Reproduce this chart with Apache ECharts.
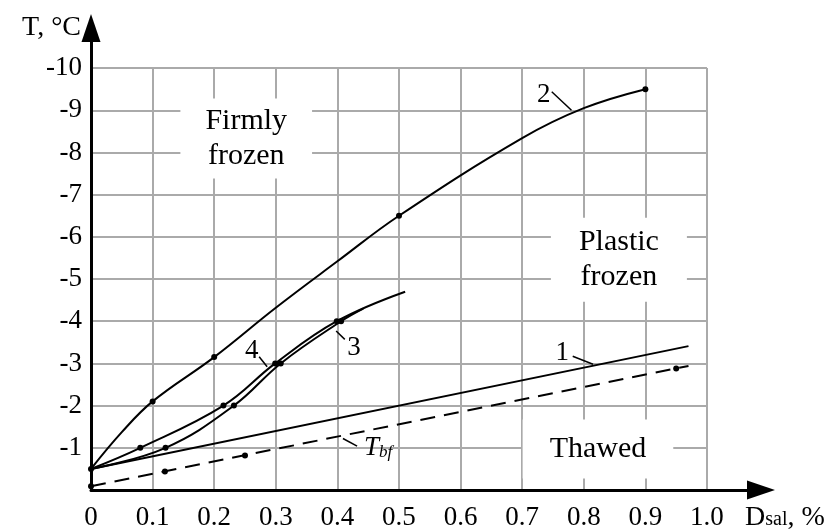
<!DOCTYPE html>
<html>
<head>
<meta charset="utf-8">
<script src="https://cdn.jsdelivr.net/npm/echarts@6/dist/echarts.min.js"></script>
<style>
  html, body { margin: 0; padding: 0; background: #fff; }
  #chart { width: 833px; height: 531px; }
</style>
</head>
<body>
<div id="chart"></div>
<script>
// Tick values: salinity D (%) and temperature T (°C)
const xTicks = [0, 0.1, 0.2, 0.3, 0.4, 0.5, 0.6, 0.7, 0.8, 0.9, 1.0];
const yTicks = [-1, -2, -3, -4, -5, -6, -7, -8, -9, -10];

// Curves [D, T]
const curve1 = [[0, -0.5], [0.97, -3.41]];
const curve2 = [[0, -0.5], [0.05, -1.37], [0.1, -2.1], [0.2, -3.15], [0.3, -4.32], [0.4, -5.42], [0.5, -6.5], [0.7, -8.34], [0.8, -9.05], [0.9, -9.5]];
const curve3 = [[0, -0.5], [0.121, -1.0], [0.232, -2.0], [0.308, -3.0], [0.406, -4.0], [0.442, -4.3]];
const curve4 = [[0, -0.5], [0.08, -1.0], [0.215, -2.0], [0.299, -3.0], [0.399, -4.0], [0.51, -4.7]];
const curveTbf = [[0, -0.09], [0.97, -2.94]];

// Measured points
const pointsStart = [[0, -0.5]];
const points2 = [[0.1, -2.1], [0.2, -3.15], [0.5, -6.5], [0.9, -9.5]];
const points3 = [[0.121, -1.0], [0.232, -2.0], [0.308, -3.0], [0.406, -4.0]];
const points4 = [[0.08, -1.0], [0.215, -2.0], [0.299, -3.0], [0.399, -4.0]];
const pointsTbf = [[0, -0.09], [0.12, -0.44], [0.25, -0.82], [0.95, -2.88]];

// Region names and curve numbers
const regionNames = ['Firmly\nfrozen', 'Plastic\nfrozen', 'Thawed'];
const curveNames = ['1', '2', '3', '4'];

// Layout (data coordinates) for annotations
const layout = {
  regionAt: [[0.252, -8.33], [0.857, -5.46], [0.823, -0.97]],
  regionPad: [[4, 25, 6, 25], [10, 28, 4, 28], [12, 27, 12, 27]],
  curveLabelAt: [[0.765, -3.26], [0.735, -9.36], [0.427, -3.36], [0.261, -3.29]],
  curveLeaders: [
    [[0.782, -3.17], [0.815, -2.98]],
    [[0.748, -9.44], [0.780, -9.0]],
    [[0.398, -3.77], [0.412, -3.57]],
    [[0.273, -3.16], [0.286, -2.92]]
  ],
  tbfAt: [0.443, -1.0],
  tbfLeader: [[0.409, -1.22], [0.432, -1.04]]
};

const FONT = '"Liberation Serif", "Times New Roman", serif';
const X_END = 1.0877;   // axis runs past the last tick to the arrow
const Y_TOP = -10.95;

// Grid lines
const gridSegments = [];
xTicks.filter(v => v > 0).forEach(v => gridSegments.push({ coords: [[v, 0], [v, yTicks[yTicks.length - 1]]] }));
yTicks.forEach(v => gridSegments.push({ coords: [[0, v], [xTicks[xTicks.length - 1], v]] }));

const chart = echarts.init(document.getElementById('chart'), null, { renderer: 'canvas' });

function curveSeries(data, extra) {
  return Object.assign({
    type: 'line', data: data, showSymbol: false, smooth: 0.4,
    lineStyle: { color: '#000', width: 2 }, itemStyle: { color: '#000' }, z: 4, silent: true
  }, extra || {});
}
function pointSeries(data) {
  return { type: 'scatter', data: data, symbolSize: 6, itemStyle: { color: '#000', opacity: 1 }, z: 5, silent: true };
}

chart.setOption({
  animation: false,
  backgroundColor: '#fff',
  grid: { left: 91, right: 72, top: 28, bottom: 40, containLabel: false },
  xAxis: {
    type: 'value', min: 0, max: X_END, z: 10,
    axisLine: { show: true, onZero: false, symbol: ['none', 'triangle'], symbolSize: [19, 28], lineStyle: { color: '#000', width: 3 } },
    axisTick: { show: false },
    splitLine: { show: false },
    axisLabel: {
      customValues: xTicks, margin: 14, color: '#000', fontFamily: FONT, fontSize: 27,
      formatter: v => (v === 0 ? '0' : v.toFixed(1))
    }
  },
  yAxis: {
    type: 'value', inverse: true, min: Y_TOP, max: 0, z: 10,
    axisLine: { show: true, onZero: false, symbol: ['none', 'triangle'], symbolSize: [19, 28], lineStyle: { color: '#000', width: 3 } },
    axisTick: { show: false },
    splitLine: { show: false },
    axisLabel: {
      customValues: yTicks, margin: 9, color: '#000', fontFamily: FONT, fontSize: 27,
      formatter: v => String(v)
    }
  },
  graphic: [
    {
      type: 'text', x: 81, y: 28,
      style: { text: 'T, °C', fill: '#000', font: '28px ' + FONT, textAlign: 'right', textVerticalAlign: 'middle' }
    },
    {
      type: 'text', x: 745, y: 518,
      style: {
        text: '{d|D}{s|sal}{d|, %}', textAlign: 'left', textVerticalAlign: 'middle',
        rich: {
          d: { fontFamily: FONT, fontSize: 28, fill: '#000', color: '#000' },
          s: { fontFamily: FONT, fontSize: 20, fill: '#000', color: '#000', padding: [4, 0, 0, 0] }
        }
      }
    }
  ],
  series: [
    {
      type: 'lines', coordinateSystem: 'cartesian2d', data: gridSegments, silent: true, z: 1,
      lineStyle: { color: '#aaa', width: 2, opacity: 1 }
    },
    {
      type: 'scatter', symbolSize: 0, silent: true, z: 3, itemStyle: { opacity: 1 },
      data: regionNames.map((name, i) => ({
        value: layout.regionAt[i], name: name,
        label: { padding: layout.regionPad[i] }
      })),
      label: {
        show: true, position: 'inside', formatter: p => p.name,
        color: '#000', fontFamily: FONT, fontSize: 30, lineHeight: 35,
        backgroundColor: '#fff', align: 'center', verticalAlign: 'middle'
      }
    },
    curveSeries(curve1, { smooth: false }),
    curveSeries(curveTbf, { smooth: false, lineStyle: { color: '#000', width: 2, type: [15, 9] } }),
    curveSeries(curve2),
    curveSeries(curve3),
    curveSeries(curve4),
    pointSeries(pointsStart),
    pointSeries(points2),
    pointSeries(points3),
    pointSeries(points4),
    pointSeries(pointsTbf),
    {
      type: 'lines', coordinateSystem: 'cartesian2d', silent: true, z: 4,
      data: layout.curveLeaders.concat([layout.tbfLeader]).map(c => ({ coords: c })),
      lineStyle: { color: '#000', width: 1.5, opacity: 1 }
    },
    {
      type: 'scatter', symbolSize: 0, silent: true, z: 5, itemStyle: { opacity: 1 },
      data: curveNames.map((n, i) => ({ value: layout.curveLabelAt[i], name: n })),
      label: {
        show: true, position: 'inside', formatter: p => p.name,
        color: '#000', fontFamily: FONT, fontSize: 27
      }
    },
    {
      type: 'scatter', symbolSize: 0, silent: true, z: 5, itemStyle: { opacity: 1 },
      data: [{ value: layout.tbfAt, name: 'Tbf' }],
      label: {
        show: true, position: 'inside', formatter: '{t|T}{s|bf}', align: 'left',
        rich: {
          t: { fontFamily: FONT, fontStyle: 'italic', fontSize: 27, color: '#000' },
          s: { fontFamily: FONT, fontStyle: 'italic', fontSize: 17, color: '#000', padding: [9, 0, 0, 0] }
        }
      }
    }
  ]
});
</script>
</body>
</html>
